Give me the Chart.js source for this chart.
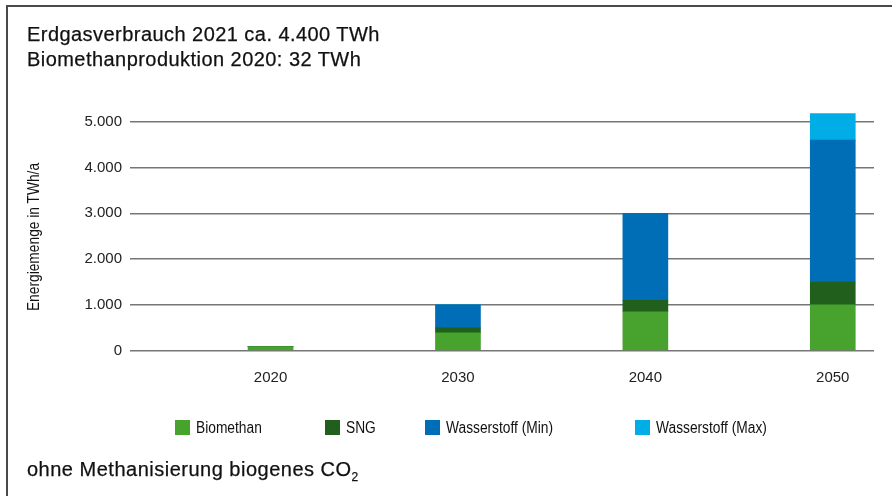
<!DOCTYPE html>
<html>
<head>
<meta charset="utf-8">
<script src="https://cdn.jsdelivr.net/npm/chart.js@4"></script>
<style>
  html, body { margin: 0; padding: 0; background: #fff; }
  #wrap { position: relative; width: 892px; height: 496px; overflow: hidden; background: #fff; }
  #frame { position: absolute; left: 6px; top: 5px; right: -4px; bottom: -4px; border-top: 2px solid #4a4a4a; border-left: 2px solid #4a4a4a; }
  #chart { position: absolute; left: 0; top: 0; }
  .txt { position: absolute; font-family: 'Liberation Sans', Arial, sans-serif; color: #111; white-space: nowrap; }
  #title { left: 27px; top: 22px; font-size: 20px; line-height: 25px; letter-spacing: 0.45px; -webkit-text-stroke: 0.25px #111; }
  #footer { left: 27px; top: 457px; font-size: 20px; line-height: 25px; letter-spacing: 0.5px; -webkit-text-stroke: 0.25px #111; }
  #footer sub { font-size: 12px; vertical-align: -5px; line-height: 0; }
  #ytitle { left: 34px; top: 237px; font-size: 16px; transform: translate(-50%, -50%) rotate(-90deg) scaleX(0.86); }
  #legend { position: absolute; left: 0; top: 420px; width: 892px; height: 16px; }
  .li { position: absolute; top: 0; height: 15px; display: flex; align-items: center; font-family: 'Liberation Sans', Arial, sans-serif; font-size: 16px; color: #111; white-space: nowrap; }
  .li .box { width: 15px; height: 15px; margin-right: 6px; flex: none; }
  .li .lab { display: inline-block; transform: scaleX(0.86); transform-origin: left center; }
</style>
</head>
<body>
<div id="wrap">
  <canvas id="chart" width="892" height="496"></canvas>
  <div id="frame"></div>
  <div id="title" class="txt">Erdgasverbrauch 2021 ca. 4.400 TWh<br>Biomethanproduktion 2020: 32 TWh</div>
  <div id="ytitle" class="txt">Energiemenge in TWh/a</div>
  <div id="legend"></div>
  <div id="footer" class="txt">ohne Methanisierung biogenes CO<sub>2</sub></div>
</div>
<script>
// ---- data ----
const years = [2020, 2030, 2040, 2050];
const biomethan = [90, 390, 850, 1000];
const sng = [0, 110, 250, 500];
const wasserstoffMin = [0, 500, 1900, 3100];
const wasserstoffMax = [0, 0, 0, 580];
const seriesNames = ['Biomethan', 'SNG', 'Wasserstoff (Min)', 'Wasserstoff (Max)'];
const yTicks = [0, 1000, 2000, 3000, 4000, 5000];

// ---- styles ----
const colors = ['#47A22E', '#21601C', '#006EB6', '#00ADE6'];
const legendLeft = [175, 325, 425, 635];

function toPoints(vals) { return years.map((y, i) => ({ x: y, y: vals[i] })); }
const seriesValues = [biomethan, sng, wasserstoffMin, wasserstoffMax];

const datasets = seriesNames.map((name, i) => ({
  label: name,
  data: toPoints(seriesValues[i]),
  backgroundColor: colors[i],
  borderWidth: 0,
  barThickness: 45
}));

const fmt = v => String(v).replace(/\B(?=(\d{3})+(?!\d))/g, '.');

const chart = new Chart(document.getElementById('chart'), {
  type: 'bar',
  data: { datasets },
  options: {
    responsive: false,
    animation: false,
    devicePixelRatio: 1,
    layout: { padding: { left: 0, right: 18, top: 108, bottom: 0 } },
    plugins: { legend: { display: false }, tooltip: { enabled: false } },
    scales: {
      x: {
        type: 'linear',
        stacked: true,
        offset: false,
        min: 2012.5,
        max: 2052.2,
        afterBuildTicks: s => { s.ticks = years.map(v => ({ value: v })); },
        afterFit: s => { s.height = 145.3; },
        grid: { display: false, drawTicks: false },
        border: { display: false },
        ticks: {
          padding: 18,
          maxRotation: 0,
          autoSkip: false,
          color: '#222',
          font: { family: "'Liberation Sans', Arial, sans-serif", size: 15 },
          callback: v => String(v)
        }
      },
      y: {
        stacked: true,
        min: 0,
        max: 5300,
        afterBuildTicks: s => { s.ticks = yTicks.map(v => ({ value: v })); },
        afterFit: s => { s.width = 130; },
        grid: { color: '#767676', lineWidth: 1.5, drawTicks: false },
        border: { display: false },
        ticks: {
          padding: 8,
          color: '#222',
          font: { family: "'Liberation Sans', Arial, sans-serif", size: 15 },
          callback: v => fmt(v)
        }
      }
    }
  }
});

// HTML legend built from the chart's datasets
const leg = document.getElementById('legend');
chart.data.datasets.forEach((ds, i) => {
  const item = document.createElement('div');
  item.className = 'li';
  item.style.left = legendLeft[i] + 'px';
  const box = document.createElement('span');
  box.className = 'box';
  box.style.background = ds.backgroundColor;
  const t = document.createElement('span');
  t.className = 'lab';
  t.textContent = ds.label;
  item.appendChild(box);
  item.appendChild(t);
  leg.appendChild(item);
});
</script>
</body>
</html>
